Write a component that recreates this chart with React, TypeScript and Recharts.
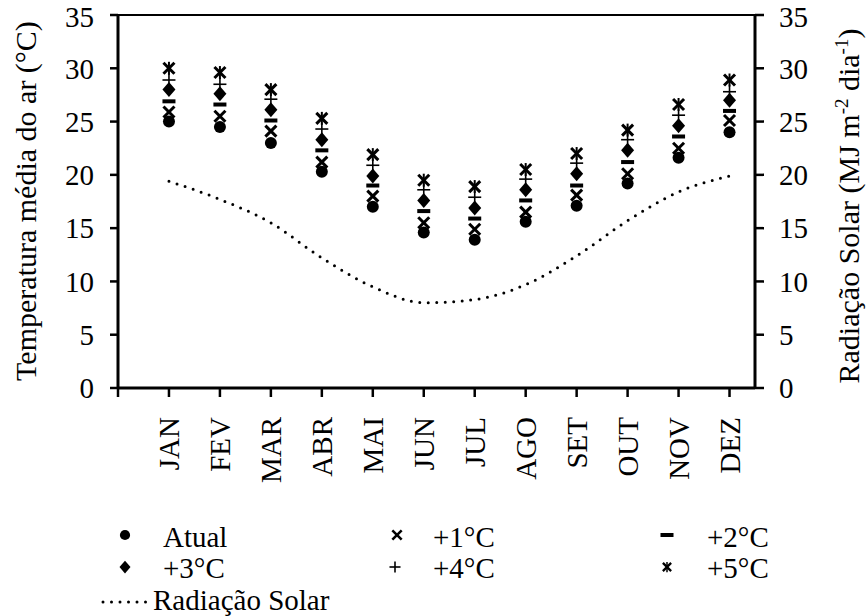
import React from "react";
import {
  ComposedChart,
  Scatter,
  Line,
  XAxis,
  YAxis,
  ReferenceLine,
} from "recharts";

const FONT = '"Liberation Serif", "Times New Roman", serif';

const months = ["JAN", "FEV", "MAR", "ABR", "MAI", "JUN", "JUL", "AGO", "SET", "OUT", "NOV", "DEZ"];
const xTicks = [0, 1, 2, 3, 4, 5, 6, 7, 8, 9, 10, 11, 12];
const yTicks = [0, 5, 10, 15, 20, 25, 30, 35];

// temperatura média do ar (°C) por cenário
const atual = [25.0, 24.5, 23.0, 20.3, 17.0, 14.6, 13.9, 15.6, 17.1, 19.2, 21.6, 24.0];
const mais1 = [25.9, 25.5, 24.1, 21.2, 18.0, 15.5, 14.9, 16.5, 18.1, 20.1, 22.5, 25.1];
const mais2 = [26.9, 26.6, 25.1, 22.3, 19.0, 16.6, 15.9, 17.6, 19.0, 21.2, 23.6, 26.0];
const mais3 = [28.0, 27.6, 26.1, 23.3, 19.9, 17.6, 16.9, 18.6, 20.1, 22.3, 24.6, 27.0];
const mais4 = [28.9, 28.5, 27.1, 24.3, 20.9, 18.6, 17.9, 19.6, 21.1, 23.3, 25.6, 27.8];
const mais5 = [30.0, 29.6, 28.0, 25.3, 21.9, 19.5, 18.9, 20.5, 22.0, 24.2, 26.6, 28.9];

// radiação solar (MJ m-2 dia-1)
const radiacao = [19.4, 17.7, 15.5, 12.2, 9.5, 8.0, 8.3, 9.7, 12.4, 15.7, 18.4, 19.9];

const data = months.map((m, i) => ({
  idx: i + 1,
  month: m,
  atual: atual[i],
  mais1: mais1[i],
  mais2: mais2[i],
  mais3: mais3[i],
  mais4: mais4[i],
  mais5: mais5[i],
  radiacao: radiacao[i],
}));

// marker shapes, s = scale
const Ball = ({ cx, cy, s = 1 }: any) => <circle cx={cx} cy={cy} r={6 * s} fill="#000" />;
const Cross = ({ cx, cy, s = 1 }: any) => {
  const d = 5.5 * s;
  return (
    <g stroke="#000" strokeWidth={3 * s}>
      <line x1={cx - d} y1={cy - d} x2={cx + d} y2={cy + d} />
      <line x1={cx - d} y1={cy + d} x2={cx + d} y2={cy - d} />
    </g>
  );
};
const Dash = ({ cx, cy, s = 1 }: any) => (
  <rect x={cx - 6.5} y={cy - 2 * s} width={13} height={4 * s} fill="#000" />
);
const Diamond = ({ cx, cy, s = 1 }: any) => {
  const w = 6.5 * s;
  const h = 7.5 * s;
  return <polygon points={`${cx},${cy - h} ${cx + w},${cy} ${cx},${cy + h} ${cx - w},${cy}`} fill="#000" />;
};
const Plus = ({ cx, cy, s = 1 }: any) => {
  const d = 6.5 * s;
  return (
    <g stroke="#000" strokeWidth={1.6}>
      <line x1={cx - d} y1={cy} x2={cx + d} y2={cy} />
      <line x1={cx} y1={cy - d} x2={cx} y2={cy + d} />
    </g>
  );
};
const Star = ({ cx, cy, s = 1 }: any) => {
  const d = 5.5 * s;
  return (
    <g stroke="#000" strokeWidth={3 * s}>
      <line x1={cx - d} y1={cy - d} x2={cx + d} y2={cy + d} />
      <line x1={cx - d} y1={cy + d} x2={cx + d} y2={cy - d} />
      <line x1={cx} y1={cy - d - 1} x2={cx} y2={cy + d + 1} strokeWidth={2 * s} />
    </g>
  );
};

const MonthTick = ({ x, y, payload }: any) => {
  const label = months[payload.value - 1] ?? "";
  return (
    <text
      x={x}
      y={y}
      dy="0.35em"
      transform={`rotate(-90, ${x}, ${y})`}
      textAnchor="end"
      fontSize={29}
      fontFamily={FONT}
      fill="#000"
    >
      {label}
    </text>
  );
};

const LeftTitle = () => (
  <text
    x={36}
    y={201}
    transform="rotate(-90, 36, 201)"
    textAnchor="middle"
    fontSize={30}
    fontFamily={FONT}
    fill="#000"
  >
    Temperatura média do ar (°C)
  </text>
);

const RightTitle = () => (
  <text
    x={859}
    y={206}
    transform="rotate(-90, 859, 206)"
    textAnchor="middle"
    fontSize={30}
    fontFamily={FONT}
    fill="#000"
  >
    <tspan>Radiação Solar (MJ m</tspan>
    <tspan dy={-11} fontSize={19}>-2</tspan>
    <tspan dy={11}> dia</tspan>
    <tspan dy={-11} fontSize={19}>-1</tspan>
    <tspan dy={11}>)</tspan>
  </text>
);

const tickStyle = { fontSize: 29, fill: "#000", fontFamily: FONT };
const axisLine = { stroke: "#000", strokeWidth: 3 };
const tickLine = { stroke: "#000", strokeWidth: 2.5 };

const legendText = { fontSize: 29, fontFamily: FONT, fill: "#000" };

// legend under the chart, drawn in page coordinates (svg starts at y 488)
function ChartLegend() {
  return (
    <svg width={866} height={128} style={{ display: "block" }}>
      <g transform="translate(0, -488)">
        <Ball cx={125} cy={535} s={0.85} />
        <text x={163} y={547} {...legendText}>Atual</text>
        <Cross cx={397} cy={535} s={0.85} />
        <text x={433} y={547} {...legendText}>+1°C</text>
        <Dash cx={667} cy={535} />
        <text x={707} y={547} {...legendText}>+2°C</text>

        <Diamond cx={125} cy={567} s={0.85} />
        <text x={163} y={578} {...legendText}>+3°C</text>
        <Plus cx={395} cy={567} s={0.85} />
        <text x={433} y={578} {...legendText}>+4°C</text>
        <Star cx={667} cy={567} s={0.75} />
        <text x={707} y={578} {...legendText}>+5°C</text>

        <line
          x1={103}
          y1={602}
          x2={147}
          y2={602}
          stroke="#000"
          strokeWidth={3}
          strokeDasharray="0 8.5"
          strokeLinecap="round"
        />
        <text x={153} y={610} {...legendText}>Radiação Solar</text>
      </g>
    </svg>
  );
}

export default function App() {
  return (
    <div
      style={{
        position: "fixed",
        left: 0,
        top: 0,
        width: 866,
        height: 616,
        overflow: "hidden",
        background: "#fff",
      }}
    >
      <ComposedChart
        width={866}
        height={488}
        data={data}
        margin={{ top: 15, right: 0, bottom: 0, left: 0 }}
      >
        <XAxis
          dataKey="idx"
          type="number"
          domain={[0, 12.5]}
          ticks={xTicks}
          interval={0}
          height={100}
          axisLine={axisLine}
          tickLine={tickLine}
          tickSize={9}
          tickMargin={20}
          tick={<MonthTick />}
          allowDataOverflow
        />
        <YAxis
          yAxisId="left"
          domain={[0, 35]}
          ticks={yTicks}
          width={118}
          axisLine={axisLine}
          tickLine={tickLine}
          tickSize={8}
          tickMargin={16}
          tick={tickStyle}
          label={() => <LeftTitle />}
        />
        <YAxis
          yAxisId="right"
          orientation="right"
          domain={[0, 35]}
          ticks={yTicks}
          width={111}
          axisLine={axisLine}
          tickLine={tickLine}
          tickSize={9}
          tickMargin={15}
          tick={tickStyle}
          label={() => <RightTitle />}
        />
        <ReferenceLine yAxisId="left" y={35} stroke="#000" strokeWidth={2} />
        <Line
          yAxisId="right"
          dataKey="radiacao"
          type="monotone"
          stroke="#000"
          strokeWidth={3}
          strokeDasharray="0 8.5"
          strokeLinecap="round"
          dot={false}
          activeDot={false}
          isAnimationActive={false}
        />
        <Scatter yAxisId="left" dataKey="atual" shape={(p: any) => <Ball cx={p.cx} cy={p.cy} />} isAnimationActive={false} />
        <Scatter yAxisId="left" dataKey="mais1" shape={(p: any) => <Cross cx={p.cx} cy={p.cy} />} isAnimationActive={false} />
        <Scatter yAxisId="left" dataKey="mais2" shape={(p: any) => <Dash cx={p.cx} cy={p.cy} />} isAnimationActive={false} />
        <Scatter yAxisId="left" dataKey="mais3" shape={(p: any) => <Diamond cx={p.cx} cy={p.cy} />} isAnimationActive={false} />
        <Scatter yAxisId="left" dataKey="mais4" shape={(p: any) => <Plus cx={p.cx} cy={p.cy} />} isAnimationActive={false} />
        <Scatter yAxisId="left" dataKey="mais5" shape={(p: any) => <Star cx={p.cx} cy={p.cy} />} isAnimationActive={false} />
      </ComposedChart>
      <ChartLegend />
    </div>
  );
}
